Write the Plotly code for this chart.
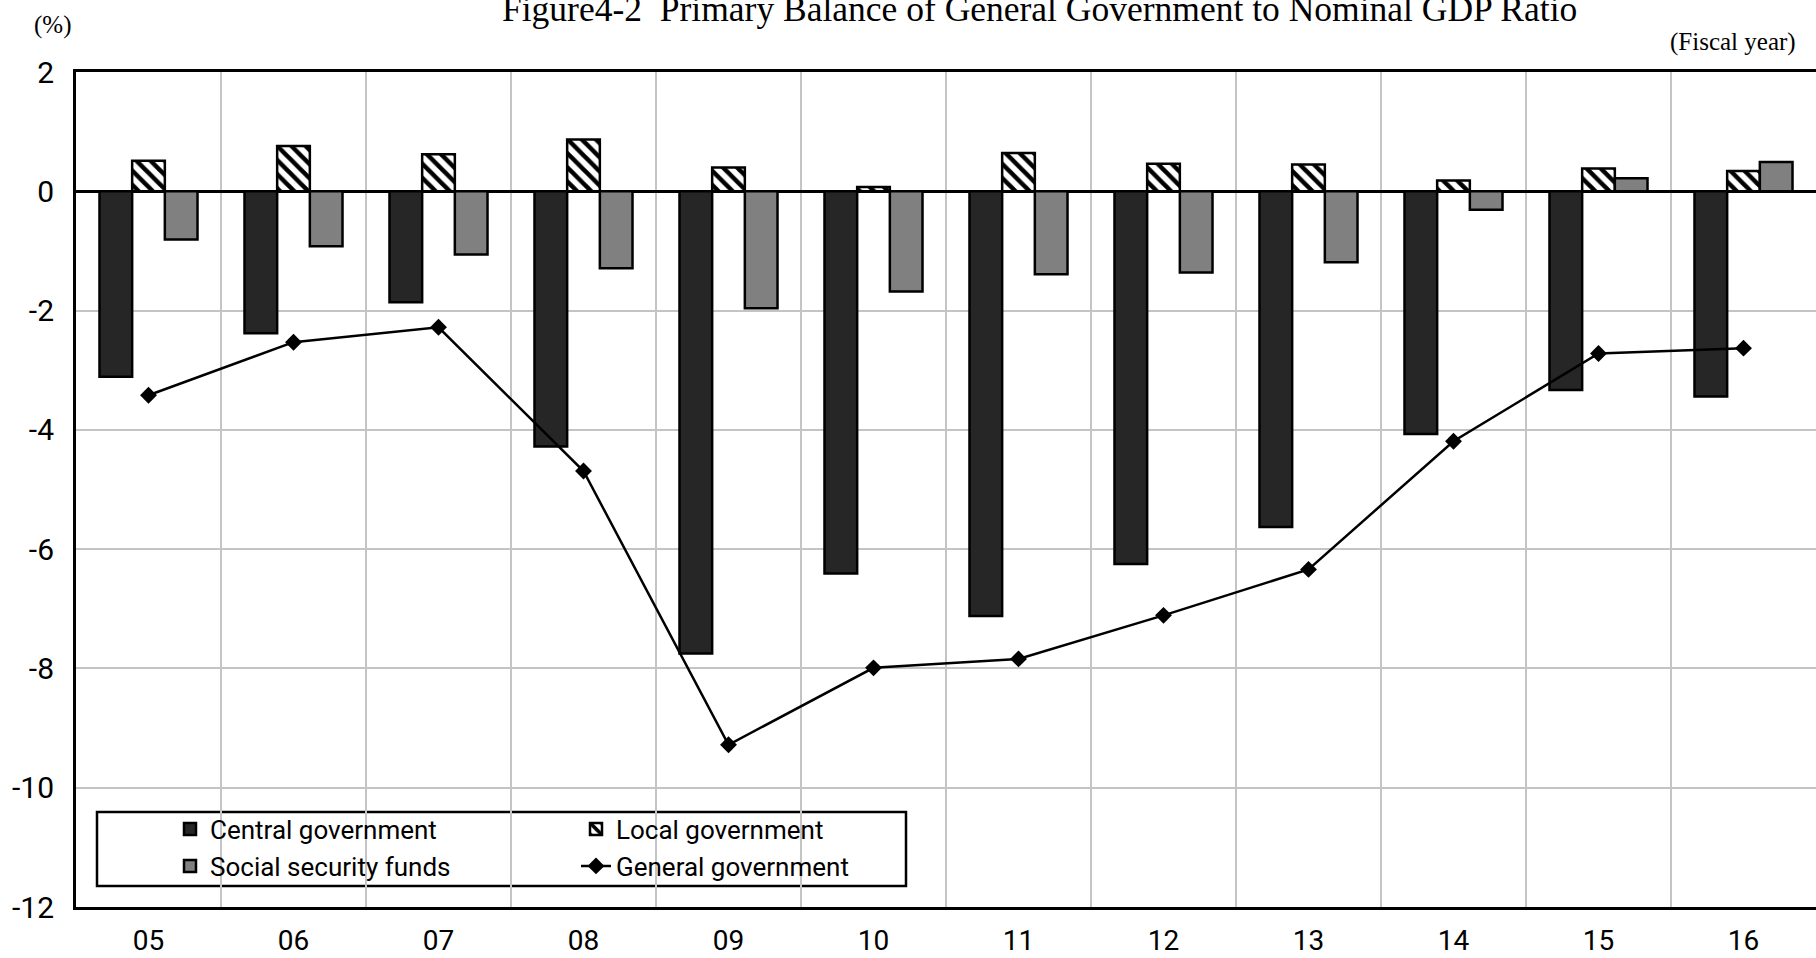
import plotly.graph_objects as go

# Fiscal years (two-digit labels)
years = ["05", "06", "07", "08", "09", "10", "11", "12", "13", "14", "15", "16"]

# Primary balance to nominal GDP (%)
central_gov = [-3.11, -2.38, -1.86, -4.28, -7.75, -6.41, -7.12, -6.25, -5.63, -4.07, -3.33, -3.44]
local_gov = [0.51, 0.76, 0.62, 0.87, 0.40, 0.07, 0.64, 0.46, 0.45, 0.18, 0.38, 0.34]
social_security = [-0.81, -0.92, -1.06, -1.29, -1.96, -1.68, -1.39, -1.36, -1.19, -0.31, 0.22, 0.49]
general_gov = [-3.42, -2.53, -2.28, -4.69, -9.28, -7.99, -7.84, -7.11, -6.34, -4.19, -2.72, -2.63]

# Value-axis ticks, written with a plain hyphen for negatives
y_ticks = [2, 0, -2, -4, -6, -8, -10, -12]
y_tick_text = ["2", "0", "-2", "-4", "-6", "-8", "-10", "-12"]

Y_MIN, Y_MAX = -12, 2
W, H = 1816, 958
ML, MR, MT, MB = 76, 0, 72, 51
PW, PH = W - ML - MR, H - MT - MB

SANS = "Roboto, Liberation Sans, sans-serif"
SERIF = "Liberation Serif, Times New Roman, serif"


def px_x(p):
    return (p - ML) / PW


def px_y(p):
    return (H - MB - p) / PH


outline = dict(color="black", width=2.5)

fig = go.Figure()
fig.add_trace(go.Bar(
    x=years, y=central_gov, name="Central government",
    marker=dict(color="#262626", line=outline), legend="legend",
))
fig.add_trace(go.Bar(
    x=years, y=local_gov, name="Local government",
    marker=dict(color="white", line=outline,
                pattern=dict(shape="\\", fgcolor="black", bgcolor="white",
                             size=10, solidity=0.45, fillmode="replace")),
    legend="legend",
))
fig.add_trace(go.Bar(
    x=years, y=social_security, name="Social security funds",
    marker=dict(color="#808080", line=outline), legend="legend2",
))
fig.add_trace(go.Scatter(
    x=years, y=general_gov, name="General government", mode="lines+markers",
    line=dict(color="black", width=2.5),
    marker=dict(symbol="diamond", size=13, color="black"),
    legend="legend2",
))

legend_common = dict(
    orientation="h", xanchor="left", yanchor="middle",
    entrywidth=361, entrywidthmode="pixels",
    bgcolor="rgba(0,0,0,0)", borderwidth=0,
    font=dict(family=SANS, size=26, color="black"),
    itemclick=False, traceorder="normal",
)

fig.update_layout(
    width=W, height=H,
    margin=dict(l=ML, r=MR, t=MT, b=MB, pad=0, autoexpand=False),
    plot_bgcolor="white", paper_bgcolor="white",
    barmode="group", bargap=0.324, bargroupgap=0,
    showlegend=True,
    legend=dict(x=px_x(170), y=px_y(829), **legend_common),
    legend2=dict(x=px_x(170), y=px_y(866), **legend_common),
    xaxis=dict(
        type="category", tickson="boundaries", automargin=False,
        range=[-0.5, len(years) - 0.5],
        showgrid=True, gridcolor="#c4c4c4", gridwidth=1.5,
        showline=True, linecolor="black", linewidth=3, mirror=True,
        ticks="", ticklabelstandoff=6,
        tickfont=dict(family=SANS, size=28, color="black"),
        zeroline=False,
    ),
    xaxis2=dict(
        overlaying="x", anchor="free", position=(0 - Y_MIN) / (Y_MAX - Y_MIN),
        side="top", range=[-0.5, len(years) - 0.5], automargin=False,
        tickmode="array", tickvals=[i + 0.5 for i in range(len(years) - 1)],
        ticks="outside", ticklen=7, tickwidth=2, tickcolor="black",
        showticklabels=False, showgrid=False, zeroline=False, showline=False,
    ),
    yaxis=dict(
        range=[Y_MIN, Y_MAX], tickmode="array", automargin=False,
        tickvals=y_ticks, ticktext=y_tick_text,
        showgrid=True, gridcolor="#c4c4c4", gridwidth=1.5,
        showline=True, linecolor="black", linewidth=3, mirror=True,
        zeroline=True, zerolinecolor="black", zerolinewidth=2.5,
        ticks="outside", ticklen=13, tickcolor="rgba(0,0,0,0)",
        tickfont=dict(family=SANS, size=30, color="black"),
    ),
    shapes=[dict(
        type="rect", xref="paper", yref="paper", layer="between",
        x0=px_x(97), x1=px_x(906), y0=px_y(886), y1=px_y(812),
        line=dict(color="black", width=2.5), fillcolor="white",
    )],
    annotations=[
        dict(text="Figure4-2  Primary Balance of General Government to Nominal GDP Ratio",
             xref="paper", yref="paper", x=px_x(500), y=px_y(9),
             xanchor="left", yanchor="middle", showarrow=False,
             font=dict(family=SERIF, size=35.5, color="black")),
        dict(text="(%)", xref="paper", yref="paper", x=px_x(52), y=px_y(25),
             xanchor="center", yanchor="middle", showarrow=False,
             font=dict(family=SERIF, size=25, color="black")),
        dict(text="(Fiscal year)", xref="paper", yref="paper", x=px_x(1798), y=px_y(42),
             xanchor="right", yanchor="middle", showarrow=False,
             font=dict(family=SERIF, size=25, color="black")),
    ],
)

fig.write_html("out.html")
